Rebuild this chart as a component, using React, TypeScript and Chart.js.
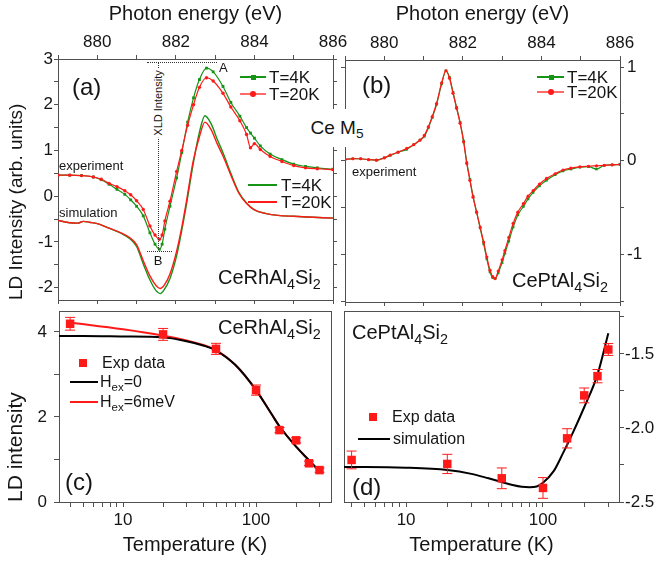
import React, { useEffect, useRef } from "react";
import { Chart, registerables } from "chart.js";

Chart.register(...registerables);

const FONT = "Arial, 'Liberation Sans', Helvetica, sans-serif";
const W = 662;
const H = 563;
const GREEN = "#169416";
const RED = "#ff1a1a";
const FRAME = "#505050";
const INK = "#151515";

// ---------- Panel (a): CeRhAl4Si2 spectra ----------
const expEnergyA = [879.0, 879.3, 879.6, 879.9, 880.1, 880.3, 880.5, 880.7, 880.85, 881.0, 881.17, 881.34, 881.47, 881.58, 881.65, 881.72, 881.85, 882.02, 882.15, 882.3, 882.45, 882.6, 882.78, 882.95, 883.2, 883.4, 883.63, 883.8, 883.9, 884.0, 884.15, 884.4, 884.7, 885.0, 885.3, 885.6, 886.0];
const exp4KA = [0.46, 0.46, 0.45, 0.42, 0.36, 0.26, 0.15, 0.04, -0.08, -0.22, -0.43, -0.80, -1.05, -1.16, -1.05, -0.72, -0.22, 0.40, 0.95, 1.62, 2.15, 2.55, 2.80, 2.72, 2.40, 2.05, 1.75, 1.50, 1.38, 1.27, 1.10, 0.92, 0.80, 0.70, 0.65, 0.62, 0.59];
const exp20KA = [0.46, 0.46, 0.45, 0.42, 0.37, 0.28, 0.21, 0.12, 0.03, -0.10, -0.29, -0.65, -0.85, -0.94, -0.85, -0.54, -0.11, 0.54, 1.00, 1.55, 2.00, 2.38, 2.59, 2.52, 2.25, 1.95, 1.65, 1.35, 1.06, 1.15, 1.02, 0.87, 0.76, 0.67, 0.62, 0.60, 0.58];
const simEnergyA = [879.0, 879.3, 879.5, 879.65, 879.8, 880.0, 880.3, 880.6, 880.83, 881.0, 881.17, 881.35, 881.5, 881.6, 881.7, 881.85, 882.02, 882.15, 882.27, 882.44, 882.6, 882.74, 882.9, 883.05, 883.2, 883.4, 883.6, 883.8, 884.0, 884.3, 884.6, 885.0, 885.5, 886.0];
const sim4KA = [-0.53, -0.58, -0.59, -0.55, -0.57, -0.60, -0.70, -0.81, -0.93, -1.10, -1.48, -1.85, -2.07, -2.13, -2.05, -1.80, -1.30, -0.75, -0.18, 0.70, 1.40, 1.76, 1.58, 1.25, 0.95, 0.50, 0.09, -0.15, -0.30, -0.38, -0.42, -0.44, -0.46, -0.48];
const sim20KA = [-0.53, -0.58, -0.59, -0.55, -0.57, -0.60, -0.70, -0.80, -0.91, -1.06, -1.41, -1.76, -1.96, -2.02, -1.95, -1.70, -1.20, -0.68, -0.11, 0.76, 1.30, 1.62, 1.45, 1.15, 0.88, 0.46, 0.07, -0.16, -0.30, -0.38, -0.42, -0.44, -0.46, -0.48];

// ---------- Panel (b): CePtAl4Si2 spectra ----------
const energyB = [879.0, 879.2, 879.4, 879.6, 879.8, 880.0, 880.15, 880.35, 880.57, 880.75, 880.91, 881.02, 881.12, 881.22, 881.33, 881.46, 881.57, 881.66, 881.75, 881.84, 881.93, 882.02, 882.1, 882.18, 882.26, 882.35, 882.44, 882.53, 882.61, 882.69, 882.76, 882.82, 882.9, 883.0, 883.07, 883.17, 883.28, 883.4, 883.54, 883.66, 883.79, 883.95, 884.13, 884.35, 884.55, 884.75, 884.98, 885.2, 885.4, 885.6, 885.8, 886.0];
const exp20KB = [0.013, 0.02, 0.02, 0.01, 0.005, 0.03, 0.06, 0.09, 0.13, 0.17, 0.22, 0.27, 0.36, 0.47, 0.61, 0.83, 0.96, 0.88, 0.72, 0.56, 0.40, 0.20, -0.03, -0.21, -0.39, -0.55, -0.71, -0.87, -1.03, -1.17, -1.24, -1.26, -1.18, -1.06, -0.96, -0.82, -0.67, -0.55, -0.46, -0.38, -0.32, -0.25, -0.19, -0.14, -0.10, -0.08, -0.066, -0.06, -0.055, -0.05, -0.045, -0.04];
const exp4KB = [0.013, 0.02, 0.02, 0.01, 0.005, 0.03, 0.055, 0.09, 0.12, 0.17, 0.22, 0.26, 0.35, 0.46, 0.60, 0.82, 0.96, 0.89, 0.73, 0.57, 0.41, 0.21, -0.02, -0.20, -0.38, -0.55, -0.72, -0.89, -1.05, -1.19, -1.25, -1.26, -1.20, -1.09, -0.99, -0.86, -0.71, -0.58, -0.49, -0.41, -0.34, -0.27, -0.21, -0.15, -0.11, -0.09, -0.07, -0.065, -0.09, -0.05, -0.045, -0.04];

// ---------- Panel (c): CeRhAl4Si2 vs temperature ----------
const tempC = [4, 20, 50, 100, 150, 200, 250, 300];
const ldC = [4.19, 3.94, 3.60, 2.63, 1.69, 1.45, 0.91, 0.75];
const errC = [0.15, 0.14, 0.13, 0.12, 0.06, 0.06, 0.05, 0.05];
const hex0Temp = [3.3, 5, 10, 20, 30, 40, 50, 70, 100, 130, 150, 200, 250, 300];
const hex0LD = [3.90, 3.90, 3.89, 3.87, 3.78, 3.68, 3.56, 3.22, 2.63, 2.08, 1.78, 1.30, 0.98, 0.72];
const hex6Temp = [4, 10, 20, 30, 40, 50, 70, 100, 130, 150, 200, 250, 300];
const hex6LD = [4.22, 4.06, 3.91, 3.80, 3.69, 3.57, 3.22, 2.63, 2.08, 1.78, 1.30, 0.98, 0.72];

// ---------- Panel (d): CePtAl4Si2 vs temperature ----------
const tempD = [4, 20, 50, 100, 150, 200, 250, 300];
const ldD = [-2.216, -2.243, -2.34, -2.405, -2.07, -1.78, -1.65, -1.47];
const errD = [0.06, 0.065, 0.07, 0.07, 0.065, 0.05, 0.045, 0.04];
const simTempD = [3.5, 5, 10, 20, 30, 40, 50, 60, 70, 80, 90, 100, 120, 140, 160, 200, 250, 300];
const simLD_D = [-2.264, -2.264, -2.268, -2.284, -2.31, -2.34, -2.365, -2.385, -2.397, -2.40, -2.395, -2.37, -2.29, -2.17, -2.06, -1.86, -1.64, -1.36];

// ---------- ticks ----------
const energyTicks = [879, 880, 881, 882, 883, 884, 885, 886];
const energyLabels = [880, 882, 884, 886];
const ldTicksA = [-2, -1.5, -1, -0.5, 0, 0.5, 1, 1.5, 2, 2.5, 3];
const ldLabelsA = [-2, -1, 0, 1, 2, 3];
const ldTicksB = [-1.5, -1, -0.5, 0, 0.5, 1];
const ldLabelsB = [-1, 0, 1];
const tempTicks = [4, 5, 6, 7, 8, 9, 10, 20, 30, 40, 50, 60, 70, 80, 90, 100, 200, 300];
const tempLabels = [10, 100];
const ldTicksC = [0, 1, 2, 3, 4];
const ldLabelsC = [0, 2, 4];
const ldTicksD = [-2.5, -2.25, -2, -1.75, -1.5, -1.25];
const ldLabelsD = [-2.5, -2, -1.5];

type XY = { x: number; y: number };
const zip = (xs: number[], ys: number[]): XY[] => xs.map((x, i) => ({ x, y: ys[i] }));

function axis(o: any) {
  const labeled = !!o.labels;
  return {
    type: o.type || "linear",
    position: o.pos,
    min: o.min,
    max: o.max,
    bounds: "data",
    afterBuildTicks: (s: any) => {
      s.ticks = (o.ticks || []).map((v: number) => ({ value: v }));
    },
    afterFit: (s: any) => {
      if (s.isHorizontal()) s.height = o.size;
      else s.width = o.size;
      s.paddingLeft = 0;
      s.paddingRight = 0;
      s.paddingTop = 0;
      s.paddingBottom = 0;
    },
    grid: {
      drawOnChartArea: false,
      drawTicks: o.tickLen > 0,
      tickLength: o.tickLen,
      color: FRAME,
      lineWidth: 1,
    },
    border: { display: true, color: FRAME, width: 1 },
    ticks: {
      display: labeled,
      autoSkip: false,
      maxRotation: 0,
      minRotation: 0,
      padding: o.pad ?? 2,
      color: INK,
      font: { family: FONT, size: 17 },
      callback: (v: any) => {
        const n = Number(v);
        if (!labeled) return "";
        return o.labels.some((l: number) => Math.abs(l - n) < 1e-6) ? (o.fmt ? o.fmt(n) : String(n)) : "";
      },
    },
    title: o.title
      ? {
          display: true,
          text: o.title,
          color: INK,
          align: o.titleAlign || "center",
          font: { family: FONT, size: o.titleSize || 20 },
          padding: o.titlePad || { top: 2, bottom: 2 },
        }
      : { display: false },
  };
}

const errorBars = {
  id: "errorBars",
  afterDatasetsDraw(chart: any) {
    const ctx = chart.ctx;
    const xs = chart.scales.x;
    const ys = chart.scales.y;
    chart.data.datasets.forEach((ds: any) => {
      if (!ds.errors) return;
      ctx.save();
      ctx.strokeStyle = ds.borderColor;
      ctx.lineWidth = 1;
      ds.data.forEach((p: XY, j: number) => {
        const e = ds.errors[j];
        const px = xs.getPixelForValue(p.x);
        const top = ys.getPixelForValue(p.y + e);
        const bot = ys.getPixelForValue(p.y - e);
        ctx.beginPath();
        ctx.moveTo(px, top);
        ctx.lineTo(px, bot);
        ctx.moveTo(px - 5, top);
        ctx.lineTo(px + 5, top);
        ctx.moveTo(px - 5, bot);
        ctx.lineTo(px + 5, bot);
        ctx.stroke();
      });
      ctx.restore();
    });
  },
};

const baseOptions = (padding: any, scales: any) => ({
  responsive: false,
  animation: false,
  devicePixelRatio: 1,
  layout: { padding },
  plugins: { legend: { display: false }, tooltip: { enabled: false } },
  scales,
});

function configA(): any {
  return {
    type: "line",
    data: {
      datasets: [
        { data: zip(expEnergyA, exp20KA), borderColor: RED, backgroundColor: RED, borderWidth: 1.2, pointRadius: 1.7, pointStyle: "circle", pointBorderWidth: 0, cubicInterpolationMode: "monotone" },
        { data: zip(expEnergyA, exp4KA), borderColor: GREEN, backgroundColor: GREEN, borderWidth: 1.2, pointRadius: 2, pointStyle: "rect", pointBorderWidth: 0, cubicInterpolationMode: "monotone" },
        { data: zip(simEnergyA, sim20KA), borderColor: RED, borderWidth: 1.4, pointRadius: 0, cubicInterpolationMode: "monotone" },
        { data: zip(simEnergyA, sim4KA), borderColor: GREEN, borderWidth: 1.4, pointRadius: 0, cubicInterpolationMode: "monotone" },
      ],
    },
    options: baseOptions({ left: 0, top: 0, right: 324, bottom: 258 }, {
      x: axis({ pos: "top", min: 879, max: 886, ticks: energyTicks, labels: energyLabels, size: 59, tickLen: 4, pad: 2, title: "Photon energy (eV)" }),
      y: axis({ pos: "left", min: -2.27, max: 3, ticks: ldTicksA, labels: ldLabelsA, size: 58, tickLen: 4, pad: 1, title: "LD Intensity (arb. units)", titleSize: 19, titleAlign: "start", titlePad: { top: 5, bottom: 2 } }),
      x2: axis({ pos: "bottom", min: 879, max: 886, ticks: energyTicks, size: 5, tickLen: 4 }),
      y2: axis({ pos: "right", min: -2.27, max: 3, ticks: ldTicksA, size: 5, tickLen: 4 }),
    }),
  };
}

function configB(): any {
  return {
    type: "line",
    data: {
      datasets: [
        { data: zip(energyB, exp20KB), borderColor: RED, backgroundColor: RED, borderWidth: 1.2, pointRadius: 1.6, pointStyle: "circle", pointBorderWidth: 0, cubicInterpolationMode: "monotone" },
        { data: zip(energyB, exp4KB), borderColor: GREEN, backgroundColor: GREEN, borderWidth: 1.2, pointRadius: 1.8, pointStyle: "rect", pointBorderWidth: 0, cubicInterpolationMode: "monotone" },
      ],
    },
    options: baseOptions({ left: 340, top: 0, right: 0, bottom: 256 }, {
      x: axis({ pos: "top", min: 879, max: 886, ticks: energyTicks, labels: energyLabels, size: 60, tickLen: 4, pad: 2, title: "Photon energy (eV)" }),
      y: axis({ pos: "right", min: -1.51, max: 1.075, ticks: ldTicksB, labels: ldLabelsB, size: 42, tickLen: 4, pad: 3 }),
      x2: axis({ pos: "bottom", min: 879, max: 886, ticks: energyTicks, size: 5, tickLen: 4 }),
      y2: axis({ pos: "left", min: -1.51, max: 1.075, ticks: ldTicksB, size: 5, tickLen: 4 }),
    }),
  };
}

function configC(): any {
  return {
    type: "line",
    data: {
      datasets: [
        { data: zip(tempC, ldC), errors: errC, showLine: false, borderColor: RED, backgroundColor: RED, pointRadius: 6, pointStyle: "rect", pointBorderWidth: 0 },
        { data: zip(hex0Temp, hex0LD), borderColor: "#000000", borderWidth: 2, pointRadius: 0, cubicInterpolationMode: "monotone" },
        { data: zip(hex6Temp, hex6LD), borderColor: RED, borderWidth: 2, pointRadius: 0, cubicInterpolationMode: "monotone" },
      ],
    },
    options: baseOptions({ left: 0, top: 310, right: 330, bottom: 0 }, {
      x: axis({ type: "logarithmic", pos: "bottom", min: 3.3, max: 366, ticks: tempTicks, labels: tempLabels, size: 61, tickLen: 5, pad: 3, title: "Temperature (K)", titleSize: 20, titlePad: { top: 2, bottom: 6 } }),
      y: axis({ pos: "left", min: 0, max: 4.49, ticks: ldTicksC, labels: ldLabelsC, size: 59, tickLen: 5, pad: 7, title: "LD intensity", titleSize: 21, titleAlign: "start", titlePad: { top: 4, bottom: 2 } }),
      x2: axis({ pos: "top", min: 0, max: 1, ticks: [], size: 1, tickLen: 0 }),
      y2: axis({ pos: "right", min: 0, max: 1, ticks: [], size: 1, tickLen: 0 }),
    }),
    plugins: [errorBars],
  };
}

function configD(): any {
  return {
    type: "line",
    data: {
      datasets: [
        { data: zip(tempD, ldD), errors: errD, showLine: false, borderColor: RED, backgroundColor: RED, pointRadius: 6, pointStyle: "rect", pointBorderWidth: 0 },
        { data: zip(simTempD, simLD_D), borderColor: "#000000", borderWidth: 2, pointRadius: 0, cubicInterpolationMode: "monotone" },
      ],
    },
    options: baseOptions({ left: 343, top: 310, right: 0, bottom: 0 }, {
      x: axis({ type: "logarithmic", pos: "bottom", min: 3.52, max: 359, ticks: tempTicks, labels: tempLabels, size: 61, tickLen: 5, pad: 3, title: "Temperature (K)", titleSize: 20, titlePad: { top: 2, bottom: 6 } }),
      y: axis({ pos: "right", min: -2.5, max: -1.21, ticks: ldTicksD, labels: ldLabelsD, size: 43, tickLen: 5, pad: 1, fmt: (n: number) => n.toFixed(1) }),
      x2: axis({ pos: "top", min: 0, max: 1, ticks: [], size: 1, tickLen: 0 }),
      y2: axis({ pos: "left", min: 0, max: 1, ticks: [], size: 1, tickLen: 0 }),
    }),
    plugins: [errorBars],
  };
}

function ChartLayer({ make }: { make: () => any }) {
  const ref = useRef<HTMLCanvasElement>(null);
  useEffect(() => {
    const chart = new Chart(ref.current as HTMLCanvasElement, make());
    return () => chart.destroy();
  }, []);
  return (
    <canvas
      ref={ref}
      width={W}
      height={H}
      style={{ position: "absolute", left: 0, top: 0, width: W, height: H }}
    />
  );
}

function Txt({ x, y, size, children, center, rot, bg }: any) {
  return (
    <div
      style={{
        position: "absolute",
        left: x,
        top: y,
        transform: `translate(${center || rot ? "-50%" : "0"}, -50%)${rot ? " rotate(-90deg)" : ""}`,
        fontSize: size,
        fontFamily: FONT,
        lineHeight: 1,
        whiteSpace: "nowrap",
        color: INK,
        background: bg || "transparent",
        padding: bg ? "1px 2px" : 0,
      }}
    >
      {children}
    </div>
  );
}

const Sub = ({ c }: { c: string }) => (
  <span style={{ fontSize: "0.72em", position: "relative", top: "0.32em" }}>{c}</span>
);

function HLine({ x1, x2, y, color, w = 1.5 }: any) {
  return <div style={{ position: "absolute", left: x1, top: y - w / 2, width: x2 - x1, height: w, background: color }} />;
}

function Mark({ x, y, s, color, round }: any) {
  return (
    <div style={{ position: "absolute", left: x - s / 2, top: y - s / 2, width: s, height: s, background: color, borderRadius: round ? "50%" : 0 }} />
  );
}

function DotH({ x1, x2, y }: any) {
  return <div style={{ position: "absolute", left: x1, top: y, width: x2 - x1, height: 0, borderTop: "1px dotted #333" }} />;
}
function DotV({ x, y1, y2 }: any) {
  return <div style={{ position: "absolute", left: x, top: y1, width: 0, height: y2 - y1, borderLeft: "1px dotted #333" }} />;
}

const Formula = ({ parts }: { parts: [string, string][] }) => (
  <>
    {parts.map(([a, b], i) => (
      <React.Fragment key={i}>
        {a}
        {b ? <Sub c={b} /> : null}
      </React.Fragment>
    ))}
  </>
);

export default function App() {
  return (
    <div style={{ position: "fixed", left: 0, top: 0, width: W, height: H, background: "#ffffff", overflow: "hidden" }}>
      <ChartLayer make={configA} />
      <ChartLayer make={configB} />
      <ChartLayer make={configC} />
      <ChartLayer make={configD} />

      {/* Panel (a) annotations */}
      <Txt x={72} y={87} size={24}>(a)</Txt>
      <HLine x1={240} x2={266} y={77} color={GREEN} w={1.5} />
      <Mark x={253} y={77} s={5} color={GREEN} />
      <Txt x={269} y={77} size={17}>T=4K</Txt>
      <HLine x1={240} x2={266} y={94} color="#ff6b6b" w={2} />
      <Mark x={253} y={94} s={6} color={RED} round />
      <Txt x={269} y={94} size={17}>T=20K</Txt>
      <Txt x={59} y={165} size={13}>experiment</Txt>
      <Txt x={59} y={212} size={13}>simulation</Txt>
      <DotH x1={147} x2={217} y={62} />
      <DotV x={158} y1={62} y2={250} />
      <DotH x1={147} x2={172} y={251} />
      <Txt x={158} y={103} size={11} rot bg="#ffffff">XLD Intensity</Txt>
      <Txt x={219} y={67} size={13}>A</Txt>
      <Txt x={158} y={260} size={13} center>B</Txt>
      <HLine x1={248} x2={277} y={185} color={GREEN} w={1.5} />
      <Txt x={281} y={185} size={17}>T=4K</Txt>
      <HLine x1={248} x2={277} y={202} color={RED} w={2} />
      <Txt x={281} y={202} size={17}>T=20K</Txt>
      <Txt x={218} y={277} size={20}><Formula parts={[["CeRhAl", "4"], ["Si", "2"]]} /></Txt>

      {/* Panel (b) annotations */}
      <Txt x={362} y={85} size={24}>(b)</Txt>
      <HLine x1={537} x2={564} y={77} color={GREEN} w={1.5} />
      <Mark x={551} y={77} s={5} color={GREEN} />
      <Txt x={567} y={77} size={17}>T=4K</Txt>
      <HLine x1={537} x2={564} y={92} color="#ff6b6b" w={2} />
      <Mark x={551} y={92} s={6} color={RED} round />
      <Txt x={567} y={92} size={17}>T=20K</Txt>
      <Txt x={352} y={171} size={13}>experiment</Txt>
      <Txt x={512} y={280} size={20}><Formula parts={[["CePtAl", "4"], ["Si", "2"]]} /></Txt>

      {/* Ce M5 label box */}
      <div style={{ position: "absolute", left: 304, top: 109, width: 66, height: 38, background: "#ffffff", display: "flex", alignItems: "center", justifyContent: "center", fontFamily: FONT, fontSize: 19, color: INK, whiteSpace: "nowrap" }}>
        <span>Ce M<Sub c="5" /></span>
      </div>

      {/* Panel (c) annotations */}
      <Txt x={218} y={327} size={20}><Formula parts={[["CeRhAl", "4"], ["Si", "2"]]} /></Txt>
      <Mark x={83} y={363} s={8.5} color={RED} />
      <Txt x={102} y={363} size={16}>Exp data</Txt>
      <HLine x1={70} x2={98} y={382} color="#000000" w={2} />
      <Txt x={100} y={382} size={16}>H<Sub c="ex" />=0</Txt>
      <HLine x1={70} x2={98} y={402} color={RED} w={2} />
      <Txt x={100} y={402} size={16}>H<Sub c="ex" />=6meV</Txt>
      <Txt x={65} y={482} size={24}>(c)</Txt>

      {/* Panel (d) annotations */}
      <Txt x={352} y={332} size={20}><Formula parts={[["CePtAl", "4"], ["Si", "2"]]} /></Txt>
      <Mark x={373} y={417} s={8.5} color={RED} />
      <Txt x={392} y={417} size={16}>Exp data</Txt>
      <HLine x1={358} x2={390} y={439} color="#000000" w={2} />
      <Txt x={393} y={439} size={16}>simulation</Txt>
      <Txt x={352} y={487} size={24}>(d)</Txt>
    </div>
  );
}
